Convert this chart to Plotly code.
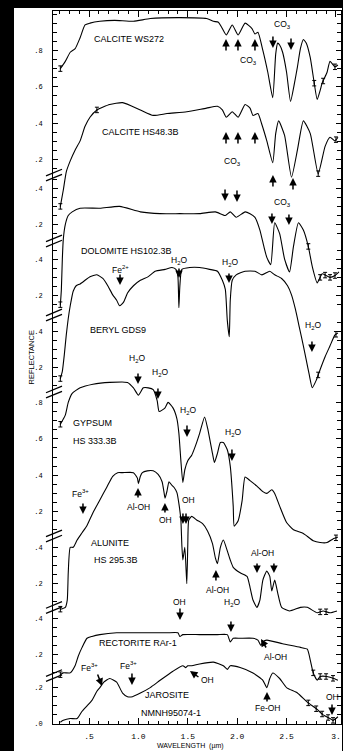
import numpy as np
import plotly.graph_objects as go

# ---------------- spectra: wavelength (µm) and reflectance ----------------
calcite_ws272_wl = [0.21, 0.26, 0.31, 0.36, 0.41, 0.46, 0.51, 0.61, 0.76, 0.95, 1.12, 1.42, 1.69, 1.76, 1.81,
                    1.84, 1.89, 1.95, 2.01, 2.08, 2.15, 2.18, 2.21, 2.26, 2.31, 2.36, 2.39, 2.41, 2.43, 2.46,
                    2.50, 2.54, 2.58, 2.61, 2.64, 2.67, 2.70, 2.74, 2.78, 2.81, 2.84, 2.86, 2.91, 2.94, 2.99, 3.02]
calcite_ws272_r = [0.70, 0.74, 0.79, 0.81, 0.87, 0.94, 0.95, 0.96, 0.965, 0.96, 0.975, 0.98, 0.975, 0.96, 0.955,
                   0.93, 0.885, 0.94, 0.885, 0.95, 0.92, 0.89, 0.90, 0.80, 0.68, 0.54, 0.78, 0.84, 0.83, 0.79,
                   0.68, 0.52, 0.62, 0.71, 0.81, 0.86, 0.84, 0.76, 0.62, 0.53, 0.58, 0.62, 0.68, 0.74, 0.71, 0.72]

calcite_hs48_wl = [0.21, 0.24, 0.27, 0.31, 0.36, 0.41, 0.46, 0.51, 0.58, 0.71, 0.84, 1.02, 1.15, 1.29, 1.49,
                   1.69, 1.80, 1.85, 1.89, 1.95, 2.01, 2.08, 2.13, 2.16, 2.21, 2.25, 2.30, 2.36, 2.39, 2.42,
                   2.48, 2.55, 2.61, 2.67, 2.74, 2.82, 2.89, 2.94, 2.99, 3.02]
calcite_hs48_r = [0.30, 0.39, 0.49, 0.55, 0.61, 0.66, 0.74, 0.79, 0.83, 0.86, 0.87, 0.83, 0.80, 0.81, 0.82,
                  0.84, 0.85, 0.83, 0.79, 0.82, 0.79, 0.86, 0.84, 0.80, 0.81, 0.75, 0.66, 0.54, 0.70, 0.77,
                  0.69, 0.46, 0.61, 0.77, 0.70, 0.48, 0.63, 0.68, 0.66, 0.68]

dolomite_wl = [0.21, 0.22, 0.23, 0.24, 0.26, 0.29, 0.33, 0.41, 0.61, 0.81, 1.02, 1.22, 1.42, 1.62, 1.78,
               1.88, 1.93, 1.99, 2.08, 2.13, 2.18, 2.23, 2.27, 2.30, 2.34, 2.38, 2.43, 2.48, 2.53, 2.57,
               2.62, 2.67, 2.72, 2.76, 2.81, 2.86, 2.90, 2.94, 2.99, 3.03]
dolomite_r = [0.15, 0.23, 0.40, 0.51, 0.59, 0.64, 0.66, 0.68, 0.68, 0.69, 0.66, 0.65, 0.65, 0.65, 0.66,
              0.64, 0.66, 0.63, 0.66, 0.65, 0.63, 0.56, 0.47, 0.41, 0.37, 0.60, 0.54, 0.40, 0.33, 0.47,
              0.60, 0.56, 0.47, 0.36, 0.27, 0.32, 0.31, 0.30, 0.31, 0.33]

beryl_wl = [0.21, 0.23, 0.25, 0.27, 0.29, 0.31, 0.34, 0.37, 0.41, 0.46, 0.51, 0.58, 0.64, 0.69, 0.74,
            0.78, 0.81, 0.85, 0.89, 0.95, 1.02, 1.10, 1.17, 1.27, 1.34, 1.38, 1.40, 1.41, 1.42, 1.44,
            1.52, 1.62, 1.72, 1.80, 1.85, 1.88, 1.90, 1.92, 1.93, 1.95, 1.99, 2.08, 2.18, 2.25, 2.33,
            2.38, 2.45, 2.51, 2.55, 2.59, 2.63, 2.67, 2.70, 2.73, 2.76, 2.80, 2.84, 2.89, 2.94, 2.99, 3.02]
beryl_r = [0.14, 0.18, 0.27, 0.38, 0.47, 0.54, 0.62, 0.65, 0.66, 0.68, 0.70, 0.71, 0.69, 0.65, 0.60,
           0.57, 0.54, 0.56, 0.61, 0.65, 0.68, 0.70, 0.73, 0.74, 0.75, 0.74, 0.70, 0.53, 0.65, 0.74,
           0.75, 0.75, 0.74, 0.73, 0.68, 0.63, 0.46, 0.37, 0.57, 0.68, 0.71, 0.73, 0.73, 0.71, 0.73,
           0.71, 0.69, 0.65, 0.60, 0.52, 0.42, 0.32, 0.24, 0.16, 0.09, 0.13, 0.19, 0.26, 0.32, 0.38, 0.39]

gypsum_wl = [0.21, 0.26, 0.29, 0.33, 0.41, 0.54, 0.71, 0.89, 0.95, 1.00, 1.05, 1.10, 1.15, 1.19, 1.21,
             1.27, 1.30, 1.35, 1.39, 1.41, 1.43, 1.45, 1.47, 1.50, 1.54, 1.57, 1.62, 1.67, 1.70, 1.75,
             1.77, 1.80, 1.83, 1.86, 1.90, 1.93, 1.96, 1.97, 2.01, 2.05, 2.08, 2.13, 2.20, 2.26, 2.30,
             2.35, 2.38, 2.43, 2.50, 2.57, 2.67, 2.77, 2.84, 2.91, 2.97, 3.02]
gypsum_r = [0.68, 0.73, 0.80, 0.85, 0.88, 0.90, 0.91, 0.91, 0.88, 0.84, 0.88, 0.88, 0.87, 0.81, 0.75,
            0.77, 0.80, 0.77, 0.71, 0.63, 0.48, 0.36, 0.43, 0.48, 0.51, 0.55, 0.63, 0.72, 0.66, 0.52,
            0.47, 0.52, 0.58, 0.58, 0.54, 0.45, 0.23, 0.12, 0.15, 0.26, 0.39, 0.37, 0.34, 0.31, 0.30,
            0.32, 0.30, 0.23, 0.14, 0.10, 0.08, 0.04, 0.03, 0.03, 0.05, 0.06]

alunite_wl = [0.21, 0.26, 0.28, 0.29, 0.31, 0.34, 0.38, 0.43, 0.48, 0.54, 0.61, 0.68, 0.74, 0.79, 0.84,
              0.95, 0.99, 1.00, 1.02, 1.04, 1.09, 1.15, 1.20, 1.24, 1.26, 1.27, 1.29, 1.31, 1.34, 1.36,
              1.39, 1.41, 1.43, 1.44, 1.45, 1.47, 1.49, 1.50, 1.51, 1.54, 1.59, 1.65, 1.70, 1.75, 1.78,
              1.80, 1.83, 1.86, 1.90, 1.93, 1.96, 2.03, 2.10, 2.13, 2.16, 2.20, 2.23, 2.26, 2.30, 2.33,
              2.35, 2.38, 2.41, 2.45, 2.53, 2.64, 2.71, 2.81, 2.87, 2.94, 3.01]
alunite_r = [0.06, 0.07, 0.11, 0.26, 0.40, 0.40, 0.44, 0.48, 0.52, 0.59, 0.66, 0.73, 0.79, 0.81, 0.81,
             0.81, 0.78, 0.75, 0.79, 0.81, 0.82, 0.82, 0.80, 0.76, 0.70, 0.67, 0.71, 0.76, 0.74, 0.73,
             0.70, 0.64, 0.55, 0.41, 0.33, 0.40, 0.20, 0.41, 0.55, 0.57, 0.55, 0.53, 0.49, 0.42, 0.34,
             0.31, 0.40, 0.44, 0.38, 0.33, 0.29, 0.26, 0.24, 0.18, 0.11, 0.07, 0.11, 0.22, 0.27, 0.24,
             0.16, 0.22, 0.15, 0.07, 0.05, 0.07, 0.07, 0.04, 0.05, 0.04, 0.05]

rectorite_wl = [0.21, 0.24, 0.31, 0.36, 0.39, 0.43, 0.48, 0.53, 0.61, 0.78, 0.95, 1.12, 1.29, 1.40, 1.42,
                1.45, 1.62, 1.80, 1.90, 1.93, 1.96, 2.03, 2.16, 2.21, 2.24, 2.26, 2.30, 2.46, 2.64, 2.71,
                2.74, 2.77, 2.81, 2.84, 2.91, 2.97, 3.02]
rectorite_r = [0.09, 0.10, 0.10, 0.14, 0.19, 0.24, 0.29, 0.30, 0.31, 0.32, 0.32, 0.32, 0.32, 0.32, 0.30,
               0.31, 0.31, 0.31, 0.31, 0.27, 0.29, 0.29, 0.29, 0.28, 0.25, 0.27, 0.28, 0.26, 0.24, 0.23,
               0.17, 0.10, 0.06, 0.08, 0.08, 0.07, 0.06]

jarosite_wl = [0.21, 0.24, 0.31, 0.38, 0.43, 0.48, 0.53, 0.58, 0.61, 0.65, 0.71, 0.78, 0.84, 0.89, 0.94,
               1.02, 1.12, 1.22, 1.35, 1.45, 1.48, 1.50, 1.54, 1.62, 1.76, 1.86, 1.90, 1.93, 2.03, 2.16,
               2.26, 2.30, 2.33, 2.36, 2.43, 2.50, 2.61, 2.71, 2.81, 2.87, 2.94, 2.97, 3.02]
jarosite_r = [0.01, 0.02, 0.03, 0.03, 0.07, 0.10, 0.13, 0.18, 0.20, 0.23, 0.25, 0.23, 0.17, 0.15, 0.15,
              0.17, 0.20, 0.24, 0.29, 0.32, 0.31, 0.32, 0.32, 0.33, 0.34, 0.32, 0.30, 0.32, 0.31, 0.28,
              0.24, 0.20, 0.25, 0.28, 0.25, 0.20, 0.17, 0.12, 0.08, 0.05, 0.03, 0.02, 0.04]

# wavelengths where the measurement error bars are drawn on each spectrum
errbar_wl = [[0.21, 2.78, 2.87, 2.99],
             [0.21, 0.58, 2.82, 3.00],
             [0.21, 2.72, 2.84, 2.89, 2.94, 2.99],
             [0.21, 2.82, 3.00],
             [0.21, 3.00],
             [0.21, 2.84, 2.90],
             [0.21, 2.77, 2.84, 2.90, 2.97],
             [2.72, 2.80, 2.86, 2.92, 2.97]]

# vertical offset of each spectrum in the stacked plot (reflectance units)
spectrum_names = ["CALCITE WS272", "CALCITE HS48.3B", "DOLOMITE HS102.3B", "BERYL GDS9",
                  "GYPSUM HS333.3B", "ALUNITE HS295.3B", "RECTORITE RAr-1", "JAROSITE NMNH95074-1"]
stack_offsets = [2.901, 2.544, 2.154, 1.758, 0.967, 0.571, 0.181, 0.0]

# labelled reflectance ticks and tick span of each offset scale
section_labels = [[0.2, 0.4, 0.6, 0.8], [0.2, 0.4], [0.2, 0.4], [0.2, 0.4],
                  [0.2, 0.4, 0.6, 0.8], [0.2, 0.4], [0.2, 0.4], [0.0, 0.2]]
section_spans = [(0.15, 1.0), (0.15, 0.45), (0.15, 0.45), (0.10, 0.45),
                 (0.10, 0.80), (0.10, 0.40), (0.10, 0.40), (0.0, 0.20)]
axis_breaks = [3.016, 2.654, 2.247, 1.824, 1.033, 0.640, 0.266]

x_major = [0.5, 1.0, 1.5, 2.0, 2.5, 3.0]
x_major_text = [".5", "1.0", "1.5", "2.0", "2.5", "3."]

# ---------------- annotations (wavelength, stacked y) ----------------
sample_labels = [
    ("CALCITE WS272", 0.905, 3.764, "center"),
    ("CALCITE HS48.3B", 1.026, 3.253, "center"),
    ("DOLOMITE HS102.3B", 0.875, 2.600, "center"),
    ("BERYL GDS9", 0.794, 2.165, "center"),
    ("GYPSUM", 0.318, 1.654, "left"),
    ("HS 333.3B", 0.318, 1.555, "left"),
    ("ALUNITE", 0.713, 0.995, "center"),
    ("HS 295.3B", 0.773, 0.901, "center"),
    ("RECTORITE RAr-1", 0.996, 0.445, "center"),
    ("JAROSITE", 1.289, 0.159, "center"),
    ("NMNH95074-1", 1.330, 0.060, "center"),
]
feature_labels = [
    ("CO<sub>3</sub>", 2.110, 3.648), ("CO<sub>3</sub>", 2.454, 3.841),
    ("CO<sub>3</sub>", 1.957, 3.088), ("CO<sub>3</sub>", 2.454, 2.868),
    ("Fe<sup>2+</sup>", 0.814, 2.495), ("H<sub>2</sub>O", 1.411, 2.545),
    ("H<sub>2</sub>O", 1.927, 2.538), ("H<sub>2</sub>O", 2.767, 2.192),
    ("H<sub>2</sub>O", 0.986, 2.011), ("H<sub>2</sub>O", 1.219, 1.929),
    ("H<sub>2</sub>O", 1.502, 1.725), ("H<sub>2</sub>O", 1.957, 1.604),
    ("Fe<sup>3+</sup>", 0.409, 1.269), ("Al-OH", 0.996, 1.192),
    ("OH", 1.279, 1.121), ("OH", 1.512, 1.231),
    ("Al-OH", 1.796, 0.736), ("Al-OH", 2.261, 0.940),
    ("OH", 1.421, 0.670), ("H<sub>2</sub>O", 1.947, 0.665),
    ("Al-OH", 2.383, 0.368), ("Fe<sup>3+</sup>", 0.510, 0.313),
    ("Fe<sup>3+</sup>", 0.895, 0.324), ("OH", 1.704, 0.242),
    ("Fe-OH", 2.312, 0.088), ("OH", 2.960, 0.148),
]
# arrow head (wavelength, stacked y) and tail offset (px, screen direction)
feature_arrows = [
    (1.887, 3.764, 0, 13), (2.008, 3.764, 0, 13), (2.180, 3.764, 0, 13),
    (2.362, 3.714, 0, -13), (2.545, 3.703, 0, -13),
    (1.887, 3.253, 0, 13), (2.008, 3.253, 0, 13), (2.180, 3.253, 0, 13),
    (2.362, 3.016, 0, 13), (2.565, 3.000, 0, 13),
    (1.877, 2.874, 0, -13), (1.998, 2.868, 0, -13), (2.352, 2.747, 0, -12), (2.524, 2.742, 0, -12),
    (0.814, 2.412, 0, -12), (1.411, 2.451, 0, -11), (1.917, 2.423, 0, -11), (2.757, 2.044, 0, -12),
    (0.996, 1.868, 0, -12), (1.198, 1.786, 0, -12), (1.492, 1.577, 0, -13), (1.947, 1.445, 0, -13),
    (0.439, 1.154, 0, -12), (0.996, 1.297, 0, 11), (1.269, 1.214, 0, 11),
    (1.451, 1.099, 0, -12), (1.482, 1.099, 0, -12),
    (1.785, 0.846, 0, 12), (2.201, 0.830, 0, -11), (2.372, 0.830, 0, -11),
    (1.421, 0.571, 0, -13), (1.937, 0.505, 0, -12), (2.241, 0.467, 6, 10),
    (0.632, 0.209, -5, -13), (0.935, 0.214, 0, -13), (1.522, 0.291, 10, 7),
    (2.302, 0.176, 0, 11), (2.960, 0.049, 0, -12),
]

spectra_wl = [calcite_ws272_wl, calcite_hs48_wl, dolomite_wl, beryl_wl,
              gypsum_wl, alunite_wl, rectorite_wl, jarosite_wl]
spectra_r = [calcite_ws272_r, calcite_hs48_r, dolomite_r, beryl_r,
             gypsum_r, alunite_r, rectorite_r, jarosite_r]

# ---------------- figure ----------------
W, H = 343, 751
ML, MR, MT, MB = 53, 2, 11, 27
X_RANGE = [0.1356, 3.051]
Y_RANGE = [0.0, 3.9176]
pw, ph = W - ML - MR, H - MT - MB

fig = go.Figure()
for name, wl, r, off, ew in zip(spectrum_names, spectra_wl, spectra_r, stack_offsets, errbar_wl):
    fig.add_trace(go.Scatter(
        x=wl, y=np.asarray(r) + off, mode="lines", name=name,
        line=dict(color="black", width=1.1, shape="spline", smoothing=0.5),
        showlegend=False, hoverinfo="skip"))
    ey = np.interp(ew, wl, r) + off
    fig.add_trace(go.Scatter(
        x=ew, y=ey, mode="markers", marker=dict(size=1, color="black"),
        error_y=dict(type="constant", value=0.015, color="black", thickness=1, width=2),
        showlegend=False, hoverinfo="skip"))

# y ticks built from the offset scales
y_major, y_major_text, y_minor = [], [], []
for off, labs, (lo, hi) in zip(stack_offsets, section_labels, section_spans):
    for v in labs:
        y_major.append(off + v)
        y_major_text.append("." + str(int(round(v * 10))))
    for v in np.arange(lo, hi + 1e-9, 0.05):
        if all(abs(v - m) > 1e-6 for m in labs):
            y_minor.append(off + v)

x_minor = [round(v, 2) for v in np.arange(0.2, 3.001, 0.1) if all(abs(v - m) > 1e-6 for m in x_major)]

tick_font = dict(family="Liberation Mono, DejaVu Sans Mono, monospace", size=8, color="black")
fig.update_xaxes(range=X_RANGE, showgrid=False, zeroline=False, showline=True, linecolor="black",
                 linewidth=1, mirror="ticks", ticks="inside", ticklen=6, tickwidth=1, tickcolor="black",
                 tickmode="array", tickvals=x_major, ticktext=x_major_text, tickfont=tick_font,
                 ticklabelstandoff=4,
                 minor=dict(tickmode="array", tickvals=x_minor, ticks="inside", ticklen=3,
                            tickcolor="black", tickwidth=1))
fig.update_yaxes(range=Y_RANGE, showgrid=False, zeroline=False, showline=True, linecolor="black",
                 linewidth=1, mirror="ticks", ticks="inside", ticklen=5, tickwidth=1, tickcolor="black",
                 tickmode="array", tickvals=y_major, ticktext=y_major_text,
                 tickfont=dict(family="Liberation Mono, DejaVu Sans Mono, monospace", size=7, color="black"),
                 ticklabelstandoff=8,
                 minor=dict(tickmode="array", tickvals=y_minor, ticks="inside", ticklen=4,
                            tickcolor="black", tickwidth=1))

shapes = [dict(type="rect", xref="paper", yref="paper", layer="below",
               x0=(14 - ML) / pw, x1=(342 - ML) / pw, y0=-0.06, y1=(H - MB - 8) / ph,
               fillcolor="white", line=dict(width=0))]
for yb in axis_breaks:
    for d in (-0.014, 0.014):
        shapes.append(dict(type="line", xref="paper", yref="y",
                           x0=-7 / pw, x1=9 / pw, y0=yb + d - 0.018, y1=yb + d + 0.018,
                           line=dict(color="black", width=1.3)))

annotations = []
name_font = dict(family="Liberation Sans, Arial, sans-serif", size=9, color="#000000")
label_font = dict(family="Liberation Sans, Arial, sans-serif", size=8.5, color="#000000")
for text, x, y, anchor in sample_labels:
    annotations.append(dict(x=x, y=y, xref="x", yref="y", text=text, showarrow=False,
                            xanchor=anchor, yanchor="middle", font=name_font))
for text, x, y in feature_labels:
    annotations.append(dict(x=x, y=y, xref="x", yref="y", text=text, showarrow=False,
                            xanchor="center", yanchor="middle", font=label_font))
for x, y, ax, ay in feature_arrows:
    annotations.append(dict(x=x, y=y, xref="x", yref="y", text="", showarrow=True,
                            ax=ax, ay=ay, arrowhead=2, arrowsize=1, arrowwidth=1.5,
                            arrowcolor="black", standoff=0, startstandoff=0))
annotations.append(dict(x=(25 - ML) / pw, y=(H - MB - 358) / ph, xref="paper", yref="paper",
                        text="REFLECTANCE", textangle=-90, showarrow=False,
                        font=dict(family="Liberation Sans, Arial, sans-serif", size=7.5, color="black")))
annotations.append(dict(x=(190 - ML) / pw, y=(H - MB - 746) / ph, xref="paper", yref="paper",
                        text="WAVELENGTH  (µm)", showarrow=False, yanchor="middle",
                        font=dict(family="Liberation Sans, Arial, sans-serif", size=7, color="black")))

fig.update_layout(width=W, height=H, autosize=False,
                  margin=dict(l=ML, r=MR, t=MT, b=MB, pad=0),
                  paper_bgcolor="black", plot_bgcolor="white",
                  shapes=shapes, annotations=annotations, showlegend=False)

fig.write_html("out.html")
